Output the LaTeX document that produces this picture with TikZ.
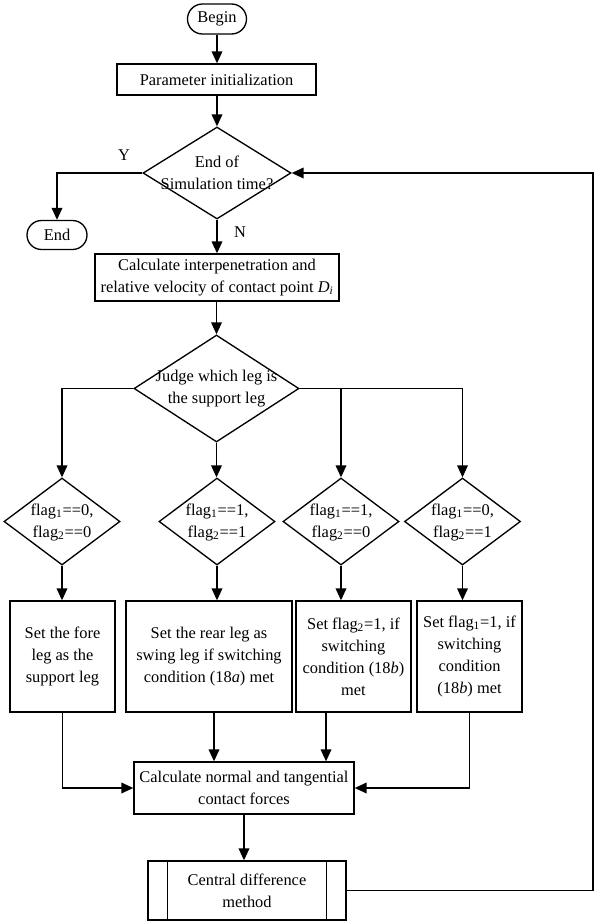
\documentclass[tikz,border=0pt]{standalone}
\usepackage{fontspec}
\setmainfont{Liberation Serif}
\usetikzlibrary{shapes.geometric,shapes.misc,arrows.meta}
\begin{document}
\begin{tikzpicture}[x=0.75pt,y=-0.75pt,
  every node/.style={font=\fontsize{12.3pt}{16.5pt}\selectfont, inner sep=0pt, align=center},
  term/.style={draw, rounded rectangle, line width=1pt},
  procbox/.style={draw, rectangle, line width=1pt},
  decision/.style={draw, diamond, line width=1pt},
  conn/.style={line width=1.1pt, -{Triangle[length=9pt,width=8pt]}},
  plain/.style={line width=1pt}]
\useasboundingbox (0,0) rectangle (594,922);
\fill[white] (0,0) rectangle (594,922);

\node[term, minimum width=44.25pt, minimum height=22.5pt] (begin) at (217,19) {Begin};
\node[procbox, minimum width=149.25pt, minimum height=23.25pt] (param) at (216.5,79.5) {Parameter initialization};
\node[decision, minimum width=111pt, minimum height=69pt] (d1) at (217,173) {};
\node (d1t) at (217,173) {End of\\Simulation time?};
\node[term, minimum width=45pt, minimum height=21.75pt] (end) at (57,235) {End};
\node (ylbl) at (124,155) {Y};
\node (nlbl) at (240,232) {N};
\node[procbox, minimum width=183pt, minimum height=35.25pt] (calc1) at (217,277.5) {Calculate interpenetration and\\relative velocity of contact point \textit{D}\textsubscript{\textit{i}}};
\node[decision, minimum width=123.75pt, minimum height=80.25pt] (d2) at (216.5,388.5) {};
\node (d2t) at (216.5,389) {Judge which leg is\\the support leg};

\node[decision, minimum width=87pt, minimum height=65.25pt] (s1) at (62,521.5) {};
\node[decision, minimum width=87pt, minimum height=65.25pt] (s2) at (217,521.5) {};
\node[decision, minimum width=87pt, minimum height=65.25pt] (s3) at (341,521.5) {};
\node[decision, minimum width=87pt, minimum height=65.25pt] (s4) at (462.5,521.5) {};
\node (s1t) at (62,522.5) {flag\textsubscript{1}==0,\\flag\textsubscript{2}==0};
\node (s2t) at (217,522.5) {flag\textsubscript{1}==1,\\flag\textsubscript{2}==1};
\node (s3t) at (341,522.5) {flag\textsubscript{1}==1,\\flag\textsubscript{2}==0};
\node (s4t) at (462.5,522.5) {flag\textsubscript{1}==0,\\flag\textsubscript{2}==1};

\node[procbox, minimum width=78.75pt, minimum height=83.25pt] (b1) at (62.5,656.5) {Set the fore\\leg as the\\support leg};
\node[procbox, minimum width=124.5pt, minimum height=83.25pt] (b2) at (209,656.5) {Set the rear leg as\\swing leg if switching\\condition (18\textit{a}) met};
\node[procbox, minimum width=86.25pt, minimum height=83.25pt] (b3) at (353.5,656.5) {Set flag\textsubscript{2}=1, if\\switching\\condition (18\textit{b})\\met};
\node[procbox, minimum width=78.75pt, minimum height=83.25pt] (b4) at (469.5,656.5) {Set flag\textsubscript{1}=1, if\\switching\\condition\\(18\textit{b}) met};

\node[procbox, minimum width=165pt, minimum height=39pt] (calc2) at (244,788) {Calculate normal and tangential\\contact forces};
\node[procbox, minimum width=148.5pt, minimum height=44.25pt] (cd) at (247,890.5) {Central difference\\method};
\draw[plain] ([xshift=15pt]cd.north west) -- ([xshift=15pt]cd.south west);
\draw[plain] ([xshift=-15pt]cd.north east) -- ([xshift=-15pt]cd.south east);

\coordinate (ret) at (593,890.5);

% connectors
\draw[conn] (begin.south) -- (begin.south |- param.north);
\draw[conn] (param.south -| d1.north) -- (d1.north);
\draw[conn] (d1.west) -| (end.north);
\draw[conn] (d1.south) -- (d1.south |- calc1.north);
\draw[conn] (calc1.south -| d2.north) -- (d2.north);
\draw[conn] (d2.west) -| (s1.north);
\draw[conn] (d2.south) -- (d2.south |- s2.north);
\draw[conn] (d2.east) -| (s3.north);
\draw[conn] (d2.east) -| (s4.north);
\draw[conn] (s1.south) -- (s1.south |- b1.north);
\draw[conn] (s2.south) -- (s2.south |- b2.north);
\draw[conn] (s3.south) -- (s3.south |- b3.north);
\draw[conn] (s4.south) -- (s4.south |- b4.north);
\draw[conn] (b1.south) |- (calc2.west);
\draw[conn] ([xshift=3.75pt]b2.south) -- ([xshift=3.75pt]b2.south |- calc2.north);
\draw[conn] ([xshift=-20.6pt]b3.south) -- ([xshift=-20.6pt]b3.south |- calc2.north);
\draw[conn] (b4.south) |- (calc2.east);
\draw[conn] (calc2.south) -- (calc2.south |- cd.north);
\draw[conn] (cd.east) -- (ret) |- (d1.east);
\end{tikzpicture}
\end{document}
